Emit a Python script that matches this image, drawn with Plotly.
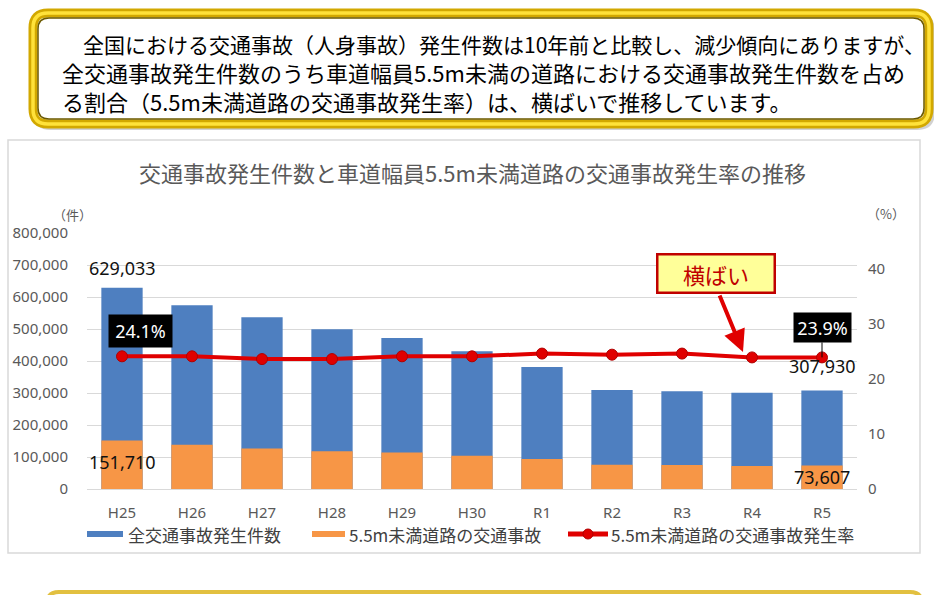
import plotly.graph_objects as go

# ---------------- data ----------------
categories = ["H25", "H26", "H27", "H28", "H29", "H30", "R1", "R2", "R3", "R4", "R5"]
total_accidents = [629033, 573842, 536899, 499201, 472165, 430601, 381237, 309178, 305196, 300839, 307930]
narrow_accidents = [151710, 138300, 126700, 117800, 113800, 103800, 93800, 75400, 75100, 71900, 73607]
narrow_rate = [24.1, 24.1, 23.6, 23.6, 24.1, 24.1, 24.6, 24.4, 24.6, 23.9, 23.9]

left_ticks = [0, 100000, 200000, 300000, 400000, 500000, 600000, 700000, 800000]
right_ticks = [0, 10, 20, 30, 40]

title_text = "交通事故発生件数と車道幅員5.5m未満道路の交通事故発生率の推移"
intro_lines = [
    "　全国における交通事故（人身事故）発生件数は10年前と比較し、減少傾向にありますが、",
    "全交通事故発生件数のうち車道幅員5.5m未満の道路における交通事故発生件数を占め",
    "る割合（5.5m未満道路の交通事故発生率）は、横ばいで推移しています。",
]
legend_names = ["全交通事故発生件数", "5.5m未満道路の交通事故", "5.5m未満道路の交通事故発生率"]
callout_text = "横ばい"

# ---------------- styling ----------------
W, H = 934, 595
L, R, T, B = 87, 857, 233, 489  # plot area in pixels
JP = "Noto Sans CJK JP"
NUM = "Noto Sans, Noto Sans CJK JP"
GREY = "#595959"
BLUE = "#4E7FC0"
ORANGE = "#F79646"
RED = "#E00000"


def PX(x):
    return (x - L) / (R - L)


def PY(y):
    return (B - y) / (B - T)


def rrect(x0, y0, x1, y1, r):
    pts = [
        f"M {PX(x0 + r)},{PY(y0)}",
        f"L {PX(x1 - r)},{PY(y0)}",
        f"Q {PX(x1)},{PY(y0)} {PX(x1)},{PY(y0 + r)}",
        f"L {PX(x1)},{PY(y1 - r)}",
        f"Q {PX(x1)},{PY(y1)} {PX(x1 - r)},{PY(y1)}",
        f"L {PX(x0 + r)},{PY(y1)}",
        f"Q {PX(x0)},{PY(y1)} {PX(x0)},{PY(y1 - r)}",
        f"L {PX(x0)},{PY(y0 + r)}",
        f"Q {PX(x0)},{PY(y0)} {PX(x0 + r)},{PY(y0)}",
        "Z",
    ]
    return " ".join(pts)


fig = go.Figure()

fig.add_trace(go.Bar(x=categories, y=total_accidents, name=legend_names[0],
                     marker=dict(color=BLUE, line=dict(width=0)), showlegend=False))
fig.add_trace(go.Bar(x=categories, y=narrow_accidents, name=legend_names[1],
                     marker=dict(color=ORANGE, line=dict(width=0)), showlegend=False))
fig.add_trace(go.Scatter(x=categories, y=narrow_rate, name=legend_names[2], yaxis="y2",
                         mode="lines+markers",
                         line=dict(color=RED, width=4),
                         marker=dict(color=RED, size=11, line=dict(color="#B00000", width=1)),
                         showlegend=False))

shapes = []
# chart panel border
shapes.append(dict(type="rect", xref="paper", yref="paper", x0=PX(8), x1=PX(920), y0=PY(140), y1=PY(553),
                   line=dict(color="#D9D9D9", width=1.5), fillcolor="rgba(0,0,0,0)", layer="below"))
# top text box (gold rounded frame)
shapes.append(dict(type="path", xref="paper", yref="paper", path=rrect(36, 16, 932, 127, 15),
                   line=dict(color="rgba(0,0,0,0.18)", width=6), layer="above"))
shapes.append(dict(type="path", xref="paper", yref="paper", path=rrect(33, 13, 929, 124, 15),
                   line=dict(color="#D2A800", width=9), fillcolor="white", layer="above"))
shapes.append(dict(type="path", xref="paper", yref="paper", path=rrect(33, 13, 929, 124, 15),
                   line=dict(color="#FFE23A", width=3.5), layer="above"))
shapes.append(dict(type="path", xref="paper", yref="paper", path=rrect(38, 18, 924, 119, 11),
                   line=dict(color="#6B5A00", width=1.5), layer="above"))
# beginning of the next box at the bottom
shapes.append(dict(type="path", xref="paper", yref="paper", path=rrect(47, 592, 922, 660, 12),
                   line=dict(color="#E2C040", width=4), fillcolor="white", layer="above"))

# manual legend
shapes.append(dict(type="rect", xref="paper", yref="paper", x0=PX(87), x1=PX(123), y0=PY(531), y1=PY(537),
                   line=dict(width=0), fillcolor=BLUE))
shapes.append(dict(type="rect", xref="paper", yref="paper", x0=PX(312), x1=PX(345), y0=PY(531), y1=PY(537),
                   line=dict(width=0), fillcolor=ORANGE))
shapes.append(dict(type="line", xref="paper", yref="paper", x0=PX(568), x1=PX(608), y0=PY(534), y1=PY(534),
                   line=dict(color=RED, width=5)))
shapes.append(dict(type="circle", xref="paper", yref="paper", x0=PX(583), x1=PX(593), y0=PY(529), y1=PY(539),
                   line=dict(color="#B00000", width=1), fillcolor=RED))

annotations = []
# intro text
for line, yc, fs in zip(intro_lines, [44, 72, 101], [21, 22, 22]):
    annotations.append(dict(text=line, xref="paper", yref="paper", x=PX(60), y=PY(yc),
                            xanchor="left", yanchor="middle", showarrow=False,
                            font=dict(family=JP, size=fs, color="#000000")))
# chart title
annotations.append(dict(text=title_text, xref="paper", yref="paper", x=PX(472), y=PY(172),
                        xanchor="center", yanchor="middle", showarrow=False,
                        font=dict(family=JP, size=22, color=GREY)))
# axis unit labels
annotations.append(dict(text="（件）", xref="paper", yref="paper", x=PX(72), y=PY(214),
                        xanchor="center", yanchor="middle", showarrow=False,
                        font=dict(family=JP, size=13, color=GREY)))
annotations.append(dict(text="（%）", xref="paper", yref="paper", x=PX(886), y=PY(213),
                        xanchor="center", yanchor="middle", showarrow=False,
                        font=dict(family=JP, size=13, color=GREY)))
# legend texts
for name, x in zip(legend_names, [127, 348, 610]):
    annotations.append(dict(text=name, xref="paper", yref="paper", x=PX(x), y=PY(534),
                            xanchor="left", yanchor="middle", showarrow=False, borderpad=0,
                            font=dict(family=JP, size=17, color="#404040")))

# data labels
annotations.append(dict(text=f"{total_accidents[0]:,}", x=categories[0], y=total_accidents[0], xref="x", yref="y",
                        yanchor="bottom", yshift=6, showarrow=False, font=dict(family=NUM, size=18, color="#111")))
annotations.append(dict(text=f"{narrow_accidents[0]:,}", x=categories[0], y=narrow_accidents[0], xref="x", yref="y",
                        yanchor="top", yshift=-8, showarrow=False, font=dict(family=NUM, size=18, color="#111")))
annotations.append(dict(text=f"{total_accidents[-1]:,}", x=categories[-1], y=total_accidents[-1], xref="x", yref="y",
                        yanchor="bottom", yshift=10, showarrow=False, font=dict(family=NUM, size=18, color="#111")))
annotations.append(dict(text=f"{narrow_accidents[-1]:,}", x=categories[-1], y=narrow_accidents[-1], xref="x", yref="y",
                        yanchor="top", yshift=2, showarrow=False, font=dict(family=NUM, size=18, color="#111")))
annotations.append(dict(text=f"{narrow_rate[0]}%", x=categories[0], y=narrow_rate[0], xref="x", yref="y2",
                        xshift=18, yshift=25, showarrow=False, bgcolor="#000000", width=57, height=26, borderpad=3,
                        font=dict(family=NUM, size=18, color="#FFFFFF")))
annotations.append(dict(text=f"{narrow_rate[-1]}%", x=categories[-1], y=narrow_rate[-1], xref="x", yref="y2",
                        showarrow=True, arrowhead=0, arrowwidth=1, arrowcolor="#000000", ax=0, ay=-30,
                        bgcolor="#000000", width=53, height=25, borderpad=2,
                        font=dict(family=NUM, size=18, color="#FFFFFF")))
# callout
annotations.append(dict(text="", xref="paper", yref="paper", x=PX(743), y=PY(352), ax=-24, ay=-58,
                        showarrow=True, arrowhead=2, arrowsize=1.1, arrowwidth=4, arrowcolor=RED))
annotations.append(dict(text=callout_text, xref="paper", yref="paper", x=PX(716), y=PY(273),
                        xanchor="center", yanchor="middle", showarrow=False,
                        bgcolor="#FFFF99", bordercolor="#C00000", borderwidth=2.5, borderpad=1,
                        width=113, height=34,
                        font=dict(family=JP, size=22, color="#C00000")))

fig.update_layout(
    width=W, height=H,
    margin=dict(l=L, r=W - R, t=T, b=H - B, pad=0, autoexpand=False),
    paper_bgcolor="white", plot_bgcolor="white",
    barmode="overlay", bargap=0.41,
    showlegend=False,
    font=dict(family=JP, color=GREY),
    xaxis=dict(type="category", range=[-0.5, len(categories) - 0.5], showgrid=False, showline=False,
               ticks="", automargin=False,
               tickfont=dict(family=NUM, size=15, color=GREY), ticklabelstandoff=13),
    yaxis=dict(range=[0, 800000], tickvals=left_ticks, tickformat=",", showgrid=True, automargin=False,
               gridcolor="#D9D9D9", gridwidth=1, zeroline=True, zerolinecolor="#D9D9D9", zerolinewidth=1,
               showline=False, ticks="", tickfont=dict(family=NUM, size=15, color=GREY),
               ticklabelstandoff=18),
    yaxis2=dict(range=[0, 46.5], tickvals=right_ticks, overlaying="y", side="right", showgrid=False,
                automargin=False, zeroline=False, showline=False, ticks="",
                tickfont=dict(family=NUM, size=15, color=GREY), ticklabelstandoff=10),
    shapes=shapes,
    annotations=annotations,
)

fig.write_html("out.html")
